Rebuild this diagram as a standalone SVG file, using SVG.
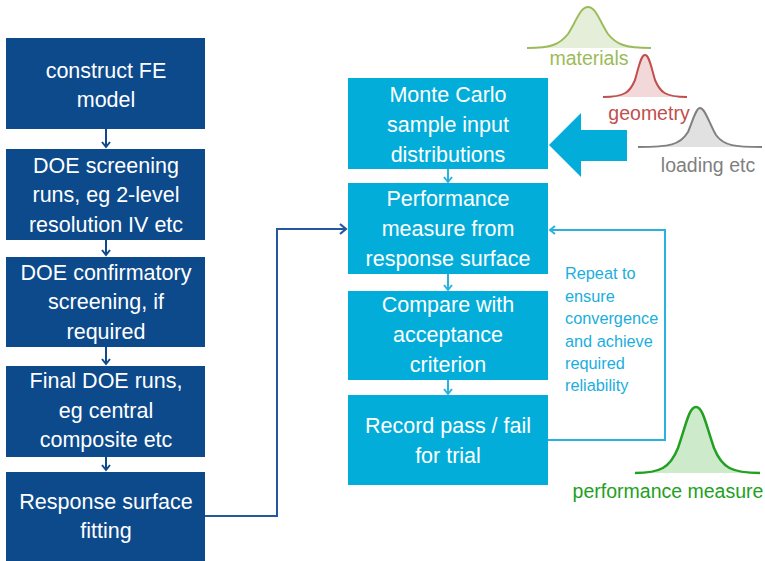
<svg xmlns="http://www.w3.org/2000/svg" width="765" height="561" viewBox="0 0 765 561">
  <style>
    .dk { fill: #0C4A8C; }
    .lt { fill: #02AED9; }
    .bt { font-family: "Liberation Sans", Arial, sans-serif; font-size: 21.5px; fill: #FFFFFF; text-anchor: middle; }
    .note { font-family: "Liberation Sans", Arial, sans-serif; font-size: 16.3px; fill: #1AAEDE; }
    .lbl { font-family: "Liberation Sans", Arial, sans-serif; font-size: 19.5px; text-anchor: middle; }
    .stepdk { stroke: #0C4A8C; stroke-width: 2; fill: none; }
    .steplt { stroke: #29B2DE; stroke-width: 2; fill: none; }
  </style>
  <defs>
    <marker id="hdk" markerWidth="10" markerHeight="10" refX="6" refY="5" orient="auto" markerUnits="userSpaceOnUse">
      <path d="M1,1 L6,5 L1,9" fill="none" stroke="#0C4A8C" stroke-width="2"/>
    </marker>
    <marker id="hlt" markerWidth="10" markerHeight="10" refX="6" refY="5" orient="auto" markerUnits="userSpaceOnUse">
      <path d="M1,1 L6,5 L1,9" fill="none" stroke="#29B2DE" stroke-width="2"/>
    </marker>
    <marker id="hfit" markerWidth="12" markerHeight="12" refX="7" refY="6" orient="auto" markerUnits="userSpaceOnUse">
      <path d="M1,1 L7,6 L1,11" fill="none" stroke="#24589E" stroke-width="2.2"/>
    </marker>
  </defs>

  <!-- design-of-experiments column -->
  <g id="construct">
    <rect class="dk" x="6" y="38" width="199" height="91"/>
    <text class="bt" x="106" y="78">construct FE</text>
    <text class="bt" x="106" y="107">model</text>
  </g>
  <g id="screening">
    <rect class="dk" x="6" y="149" width="199" height="91"/>
    <text class="bt" x="106" y="173">DOE screening</text>
    <text class="bt" x="106" y="202">runs, eg 2-level</text>
    <text class="bt" x="106" y="232">resolution IV etc</text>
  </g>
  <g id="confirmatory">
    <rect class="dk" x="6" y="257" width="199" height="90"/>
    <text class="bt" x="106" y="280">DOE confirmatory</text>
    <text class="bt" x="106" y="309">screening, if</text>
    <text class="bt" x="106" y="339">required</text>
  </g>
  <g id="final-runs">
    <rect class="dk" x="6" y="366" width="199" height="91"/>
    <text class="bt" x="106" y="388">Final DOE runs,</text>
    <text class="bt" x="106" y="418">eg central</text>
    <text class="bt" x="106" y="447">composite etc</text>
  </g>
  <g id="fitting">
    <rect class="dk" x="6" y="472" width="199" height="95"/>
    <text class="bt" x="106" y="509">Response surface</text>
    <text class="bt" x="106" y="538">fitting</text>
  </g>

  <!-- Monte Carlo column -->
  <g id="monte-carlo">
    <rect class="lt" x="348" y="78" width="200" height="91"/>
    <text class="bt" x="448" y="102">Monte Carlo</text>
    <text class="bt" x="448" y="132">sample input</text>
    <text class="bt" x="448" y="162">distributions</text>
  </g>
  <g id="performance">
    <rect class="lt" x="348" y="183" width="200" height="91"/>
    <text class="bt" x="448" y="206">Performance</text>
    <text class="bt" x="448" y="236">measure from</text>
    <text class="bt" x="448" y="266">response surface</text>
  </g>
  <g id="compare">
    <rect class="lt" x="348" y="291" width="200" height="89"/>
    <text class="bt" x="448" y="312">Compare with</text>
    <text class="bt" x="448" y="342">acceptance</text>
    <text class="bt" x="448" y="372">criterion</text>
  </g>
  <g id="record">
    <rect class="lt" x="348" y="395" width="200" height="90"/>
    <text class="bt" x="448" y="433">Record pass / fail</text>
    <text class="bt" x="448" y="463">for trial</text>
  </g>

  <!-- input distributions feeding the sampler -->
  <g id="inputs">
    <path d="M627,130 L581,130 L581,113 L549,145 L581,177 L581,161 L627,161 Z" fill="#02AED9"/>
    <path d="M527,48 C552,48 560,44 568,34 C576,22 580,7 588,7 C596,7 600,22 608,34 C616,44 624,48 651,48 Z" fill="#E4EED8" stroke="none"/>
    <path d="M527,48 C552,48 560,44 568,34 C576,22 580,7 588,7 C596,7 600,22 608,34 C616,44 624,48 651,48" fill="none" stroke="#9BBB59" stroke-width="2"/>
    <text class="lbl" x="589" y="65" fill="#9BBB59">materials</text>
    <path d="M603,97 C625,97 630,92 635,80 C639,66 641,55 645,55 C649,55 651,66 655,80 C660,92 665,97 687,97 Z" fill="#F2D8D8" stroke="none"/>
    <path d="M603,97 C625,97 630,92 635,80 C639,66 641,55 645,55 C649,55 651,66 655,80 C660,92 665,97 687,97" fill="none" stroke="#C0504D" stroke-width="2"/>
    <text class="lbl" x="649" y="120" fill="#C0504D">geometry</text>
    <path d="M638,147 C670,147 680,145 688,132 C693,120 696,108 700,108 C705,108 710,125 716,135 C724,146 735,147 762,147 Z" fill="#E1E1E1" stroke="none"/>
    <path d="M638,147 C670,147 680,145 688,132 C693,120 696,108 700,108 C705,108 710,125 716,135 C724,146 735,147 762,147" fill="none" stroke="#808080" stroke-width="2"/>
    <text class="lbl" x="708" y="172" fill="#7F7F7F">loading etc</text>
  </g>

  <!-- output distribution -->
  <g id="output">
    <path d="M635,473 C660,473 670,468 678,448 C686,425 689,407 696,407 C703,407 706,425 714,448 C722,468 732,473 760,473 Z" fill="#CDEBCB" stroke="none"/>
    <path d="M635,473 C660,473 670,468 678,448 C686,425 689,407 696,407 C703,407 706,425 714,448 C722,468 732,473 760,473" fill="none" stroke="#22A022" stroke-width="2.5"/>
    <text class="lbl" x="668" y="498" fill="#22A022">performance measure</text>
  </g>

  <g id="repeat-note">
    <text class="note" x="565" y="279">Repeat to</text>
    <text class="note" x="565" y="302">ensure</text>
    <text class="note" x="565" y="324">convergence</text>
    <text class="note" x="565" y="347">and achieve</text>
    <text class="note" x="565" y="369">required</text>
    <text class="note" x="565" y="391">reliability</text>
  </g>

  <!-- connectors -->
  <g id="connectors">
    <line class="stepdk" x1="106" y1="129" x2="106" y2="147" marker-end="url(#hdk)"/>
    <line class="stepdk" x1="106" y1="240" x2="106" y2="255" marker-end="url(#hdk)"/>
    <line class="stepdk" x1="106" y1="347" x2="106" y2="364" marker-end="url(#hdk)"/>
    <line class="stepdk" x1="106" y1="457" x2="106" y2="470" marker-end="url(#hdk)"/>
    <polyline points="205,516 277,516 277,229 346,229" fill="none" stroke="#24589E" stroke-width="2" marker-end="url(#hfit)"/>
    <line class="steplt" x1="448" y1="169" x2="448" y2="182" marker-end="url(#hlt)"/>
    <line class="steplt" x1="448" y1="274" x2="448" y2="290" marker-end="url(#hlt)"/>
    <line class="steplt" x1="448" y1="380" x2="448" y2="394" marker-end="url(#hlt)"/>
    <polyline class="steplt" points="548,440 665,440 665,230 550,230" marker-end="url(#hlt)"/>
  </g>
</svg>
